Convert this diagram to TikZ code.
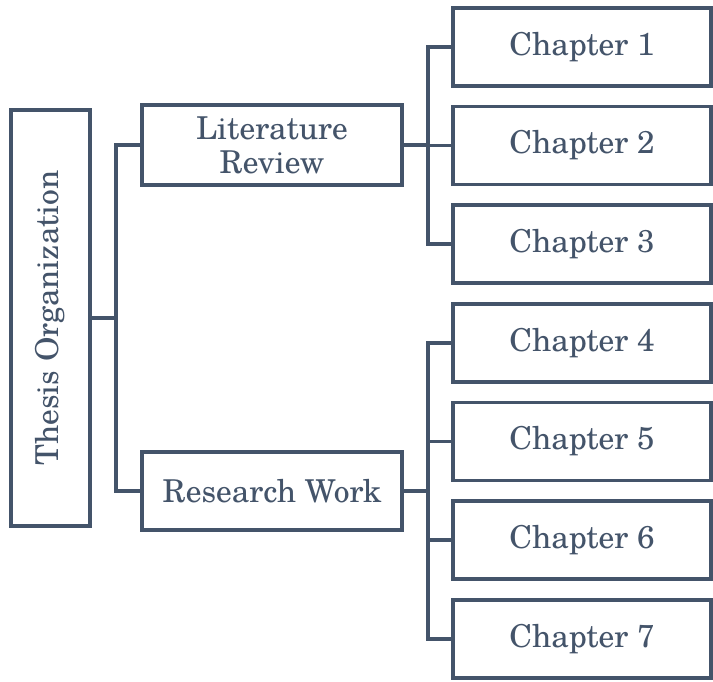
\documentclass[tikz,border=0pt]{standalone}
\usepackage{fontspec}
\setmainfont{TeX Gyre Schola}
\begin{document}
\begin{tikzpicture}[x=1pt,y=-1pt,
  ink/.style={draw=slate,line width=3.2pt},
  box/.style={ink,rectangle,fill=white,text=slate,inner sep=0pt,align=center,font=\fontsize{31.5}{34}\selectfont},
  link/.style={ink}]
\definecolor{slate}{HTML}{44546A}
\useasboundingbox (0,0) rectangle (713,681);
% root
\node[box,minimum width=416pt,minimum height=79pt,rotate=90] (root) at (50.5,318) {Thesis Organization};
% second level
\node[box,minimum width=260pt,minimum height=80pt] (lit) at (272,145) {Literature\\Review};
\node[box,minimum width=260pt,minimum height=78pt] (res) at (272,491) {Research Work};
% chapters
\foreach \i/\y in {1/47,2/145.5,3/244,4/343,5/441.5,6/540,7/639}
  \node[box,minimum width=258pt,minimum height=78pt] (c\i) at (582,\y) {Chapter \i};
% connectors
\coordinate (j0) at (116,318);
\coordinate (j1) at (428,145);
\coordinate (j2) at (428,491);
\draw[link] (root.south) -- (j0);
\draw[link] (j0) |- (lit.west);
\draw[link] (j0) |- (res.west);
\draw[link] (lit.east) -- (j1);
\foreach \i in {1,2,3} \draw[link] (j1) |- (c\i.west);
\draw[link] (res.east) -- (j2);
\foreach \i in {4,5,6,7} \draw[link] (j2) |- (c\i.west);
\end{tikzpicture}
\end{document}
